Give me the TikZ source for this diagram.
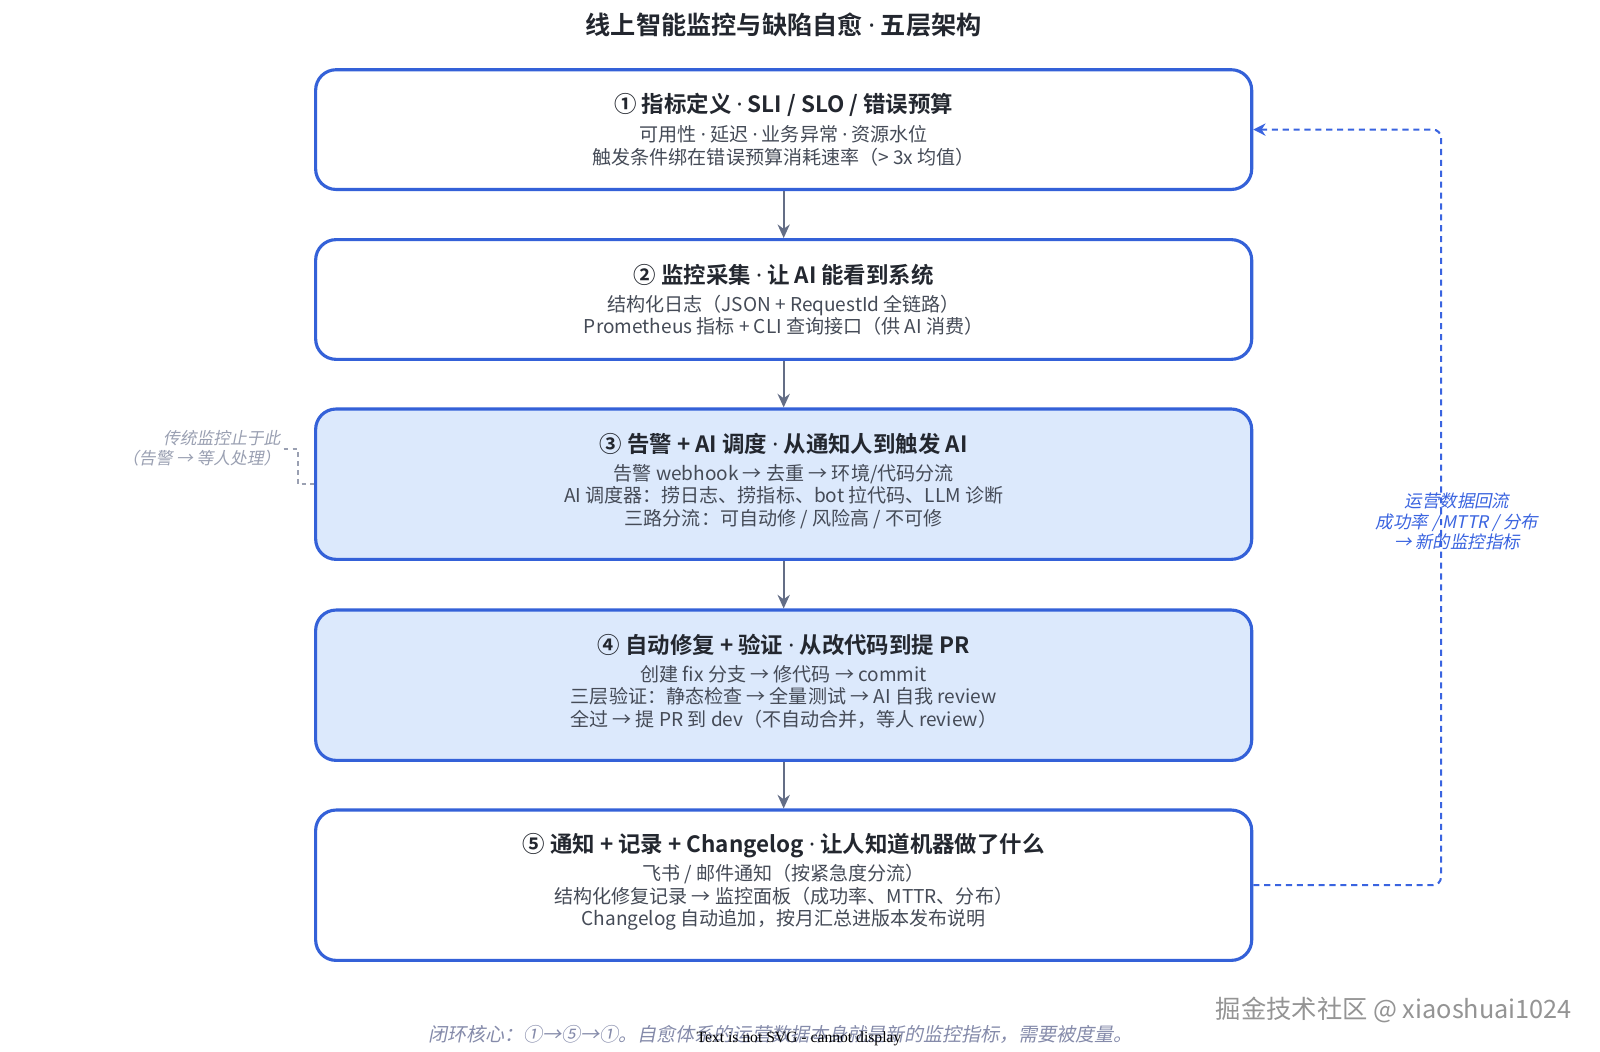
\documentclass[tikz,border=0pt]{standalone}
\usepackage{fontspec}
\setmainfont{Noto Sans CJK SC}[BoldFont={Noto Sans CJK SC Bold}]
\newfontfamily\slantcjk{Noto Sans CJK SC}[FakeSlant=0.2]
\newfontfamily\latinsans{Noto Sans}
\newfontfamily\serifnote{Liberation Serif}
\newcommand\sepdot{{\latinsans ·}}
\usepackage{xcolor}
\usepackage{tikz}
\usetikzlibrary{arrows.meta}
\definecolor{layerBlue}{HTML}{3461D8}
\definecolor{layerFill}{HTML}{DCE9FC}
\definecolor{flowGray}{HTML}{646E86}
\definecolor{loopBlue}{HTML}{3A64E0}
\definecolor{titleInk}{HTML}{23272F}
\definecolor{bodyInk}{HTML}{454B57}
\definecolor{noteGray}{HTML}{9AA0B2}
\definecolor{coreGray}{HTML}{858BAA}

\begin{document}
\begin{tikzpicture}[x=0.75pt,y=-0.75pt,
    layer/.style={draw=layerBlue, line width=2.3pt, rounded corners=15pt, fill=white,
        minimum width=688pt, minimum height=88pt, inner sep=0pt},
    layerhot/.style={layer, fill=layerFill, minimum height=110.5pt},
    ttl/.style={font=\bfseries\fontsize{16.5pt}{19pt}\selectfont, text=titleInk, inner sep=0pt},
    body/.style={font=\fontsize{14pt}{16.5pt}\selectfont, text=bodyInk, align=center, inner sep=0pt},
    flow/.style={draw=flowGray, line width=1.5pt, -{Stealth[length=10pt,width=9pt]}},
    loopback/.style={draw=loopBlue, line width=1.5pt, dash pattern=on 4.5pt off 3.5pt,
        rounded corners=6pt, -{Stealth[length=9pt,width=9pt]}},
    sidenote/.style={font=\slantcjk\fontsize{12.5pt}{16pt}\selectfont, inner sep=0pt}]
    \useasboundingbox[fill=white] (0,0) rectangle (1568,1030.5);

    \node[font=\bfseries\fontsize{18.5pt}{22pt}\selectfont, text=titleInk] (title) at (768,24) {线上智能监控与缺陷自愈 \sepdot{} 五层架构};

    % layers
    \node[layer] (l1) at (768,127) {};
    \node[layer] (l2) at (768,293.5) {};
    \node[layerhot] (l3) at (768,474.5) {};
    \node[layerhot] (l4) at (768,671.5) {};
    \node[layer, minimum height=110.5pt] (l5) at (768,867.5) {};

    \node[ttl] (t1) at (768,103) {① 指标定义 \sepdot{} SLI / SLO / 错误预算};
    \node[body] (b1) at (768,143) {可用性 \sepdot{} 延迟 \sepdot{} 业务异常 \sepdot{} 资源水位\\触发条件绑在错误预算消耗速率（> 3x 均值）};
    \node[ttl] (t2) at (768,269) {② 监控采集 \sepdot{} 让 AI 能看到系统};
    \node[body] (b2) at (768,309) {结构化日志（JSON + RequestId 全链路）\\Prometheus 指标 + CLI 查询接口（供 AI 消费）};
    \node[ttl] (t3) at (768,435) {③ 告警 + AI 调度 \sepdot{} 从通知人到触发 AI};
    \node[body] (b3) at (768,486.5) {告警 webhook → 去重 → 环境/代码分流\\AI 调度器：捞日志、捞指标、bot 拉代码、LLM 诊断\\三路分流：可自动修 / 风险高 / 不可修};
    \node[ttl] (t4) at (768,632) {④ 自动修复 + 验证 \sepdot{} 从改代码到提 PR};
    \node[body] (b4) at (768,683) {创建 fix 分支 → 修代码 → commit\\三层验证：静态检查 → 全量测试 → AI 自我 review\\全过 → 提 PR 到 dev（不自动合并，等人 review）};
    \node[ttl] (t5) at (768,829) {⑤ 通知 + 记录 + Changelog \sepdot{} 让人知道机器做了什么};
    \node[body] (b5) at (768,879.5) {飞书 / 邮件通知（按紧急度分流）\\结构化修复记录 → 监控面板（成功率、MTTR、分布）\\Changelog 自动追加，按月汇总进版本发布说明};

    \foreach \a/\b in {l1/l2,l2/l3,l3/l4,l4/l5}
        \draw[flow] (\a) -- (\b);

    % feedback loop
    \draw[loopback] (l5.east) -- ++(184,0) |- (l1.east);
    \node[sidenote, text=loopBlue, align=center, font=\slantcjk\fontsize{12.8pt}{15pt}\selectfont] (loopnote) at (1428,511) {运营数据回流\\成功率 / MTTR / 分布\\→ 新的监控指标};

    % left note
    \node[sidenote, text=noteGray, align=right, anchor=east, font=\slantcjk\fontsize{12.3pt}{15pt}\selectfont] (stopnote) at (275,439) {传统监控止于此\\（告警 → 等人处理）};
    \draw[noteGray, line width=1.1pt, dash pattern=on 3.5pt off 3pt] (stopnote.east) ++(3,1) -- ++(14,0) |- (l3.west);

    \node[sidenote, font=\slantcjk\fontsize{14pt}{16pt}\selectfont, text=coreGray] (core) at (765,1014) {闭环核心：①→⑤→①。自愈体系的运营数据本身就是新的监控指标，需要被度量。};
    \node[font=\serifnote\fontsize{11.5pt}{13pt}\selectfont, text=black, inner sep=0pt] (svgnote) at (783,1018) {Text is not SVG - cannot display};
    \node[font=\fontsize{18.6pt}{22pt}\selectfont, text=black!42, inner sep=0pt] (watermark) at (1366,990) {掘金技术社区 @ xiaoshuai1024};
\end{tikzpicture}
\end{document}
